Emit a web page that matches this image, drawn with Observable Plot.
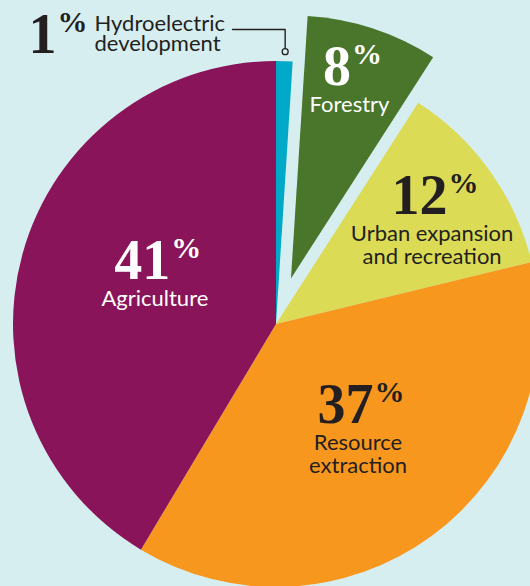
<!DOCTYPE html>
<html>
<head>
<meta charset="utf-8">
<script src="https://cdn.jsdelivr.net/npm/d3@7"></script>
<script src="https://cdn.jsdelivr.net/npm/@observablehq/plot@0.6"></script>
<style>
  html, body { margin: 0; padding: 0; background: #d6eef0; }
  #chart svg { display: block; }
</style>
</head>
<body>
<div id="chart"></div>
<script>
// Shares of land-use pressure by sector (percent)
const sectors = ["Hydroelectric development", "Forestry", "Urban expansion and recreation", "Resource extraction", "Agriculture"];
const shares = [1, 8, 12, 37, 41];
const nameLines = [["Hydroelectric", "development"], ["Forestry"], ["Urban expansion", "and recreation"], ["Resource", "extraction"], ["Agriculture"]];
const sliceColors = ["#00a9c7", "#49762b", "#dcdb55", "#f7971e", "#8a1459"];
const labelColors = ["#231f20", "#ffffff", "#231f20", "#231f20", "#ffffff"];

// Layout (pixels, relative to the pie centre)
const W = 530, H = 586, CX = 276, CY = 324, R = 263;
const BG = "#d6eef0", INK = "#231f20";
const explode = [0, 48, 0, 0, 0];
const labelRadius = [null, 202, 191, 128, 130];
const labelNudge = [0, -1.5, 0, -3.2, 5.2];   // degrees off the slice mid-angle
const bigSize = 56, pctSize = 30, nameSize = 22, lineGap = 23, hydroGap = 20, nameDrop = 27;
const serif = "'Liberation Serif', 'DejaVu Serif', serif";
const sans = "Lato, 'Noto Sans', sans-serif";

const polar = (r, a) => [r * Math.sin(a), -r * Math.cos(a)];
const rad = (deg) => deg * Math.PI / 180;

const arcs = d3.pie().sort(null).value(d => d)(shares);
const slices = arcs.map((a, i) => {
  const mid = (a.startAngle + a.endAngle) / 2;
  const [ox, oy] = polar(explode[i], mid);
  return {i, name: sectors[i], share: shares[i], start: a.startAngle, end: a.endAngle, mid, ox, oy, color: sliceColors[i]};
});

// width of the superscript percent sign in the bold serif
const pctW = 0.833 * pctSize;
const joinOffset = (s) => (String(s).length * 0.5 * bigSize - pctW) / 2;

// label anchors: x = centre of the number block, y = number baseline;
// name y = baseline of the last name line
const labels = slices.map(s => {
  const lines = nameLines[s.i];
  let x, y, nameX, nameY, outside = false;
  if (labelRadius[s.i] == null) {
    // outside label for the thin slice, read via a leader line
    outside = true;
    x = -220 - joinOffset(s.share); y = -272;
    nameX = -182; nameY = -294 + (lines.length - 1) * hydroGap;
  } else {
    const [lx, ly] = polar(labelRadius[s.i], s.mid + rad(labelNudge[s.i]));
    x = s.ox + lx; y = s.oy + ly;
    nameX = x; nameY = y + nameDrop + (lines.length - 1) * lineGap;
  }
  return {...s, x, y, nameX, nameY, outside, nameText: lines.join("\n"),
          joinX: x + joinOffset(s.share), color: labelColors[s.i]};
});

// leader from the hydro label to its slice
const hydro = slices[0];
const [dotX, dotY] = polar(R + 10, hydro.mid);
const leader = [[-44, -295], [dotX, -295], [dotX, dotY - 3]];

// pie wedges drawn with d3.arc, placed through Plot's x/y scales
function wedges(index, scales) {
  const sx = scales && scales.x ? scales.x : v => v + CX;
  const sy = scales && scales.y ? scales.y : v => v + CY;
  const arc = d3.arc().innerRadius(0).outerRadius(sx(R) - sx(0));
  const g = d3.create("svg:g");
  g.selectAll("path").data(slices).join("path")
    .attr("transform", d => `translate(${sx(d.ox)},${sy(d.oy)})`)
    .attr("d", d => arc({startAngle: d.start, endAngle: d.end}))
    .attr("fill", d => d.color);
  return g.node();
}

const nameStyle = {x: "nameX", y: "nameY", text: "nameText", fill: "color", lineAnchor: "bottom", fontSize: nameSize, fontFamily: sans};

const chart = Plot.plot({
  width: W,
  height: H,
  margin: 0,
  style: {background: BG, overflow: "hidden"},
  x: {domain: [-CX, W - CX], range: [0, W], axis: null},
  y: {domain: [-CY, H - CY], range: [0, H], axis: null},
  color: {type: "identity"},
  marks: [
    wedges,
    Plot.line(leader, {x: d => d[0], y: d => d[1], stroke: INK, strokeWidth: 1.4}),
    Plot.dot([[dotX, dotY]], {x: d => d[0], y: d => d[1], r: 3, stroke: INK, strokeWidth: 1.3, fill: BG}),
    Plot.text(labels, {
      x: "joinX", y: "y", text: d => String(d.share), fill: "color",
      textAnchor: "end", lineAnchor: "bottom",
      fontSize: bigSize, fontFamily: serif, fontWeight: "bold"
    }),
    Plot.text(labels, {
      x: "joinX", y: "y", text: d => "%", fill: "color",
      textAnchor: "start", lineAnchor: "bottom", dx: 1, dy: -21,
      fontSize: pctSize, fontFamily: serif, fontWeight: "bold"
    }),
    Plot.text(labels.filter(d => !d.outside), {...nameStyle, textAnchor: "middle", lineHeight: lineGap / nameSize}),
    Plot.text(labels.filter(d => d.outside), {...nameStyle, textAnchor: "start", lineHeight: hydroGap / nameSize})
  ]
});

document.getElementById("chart").append(chart);
</script>
</body>
</html>
